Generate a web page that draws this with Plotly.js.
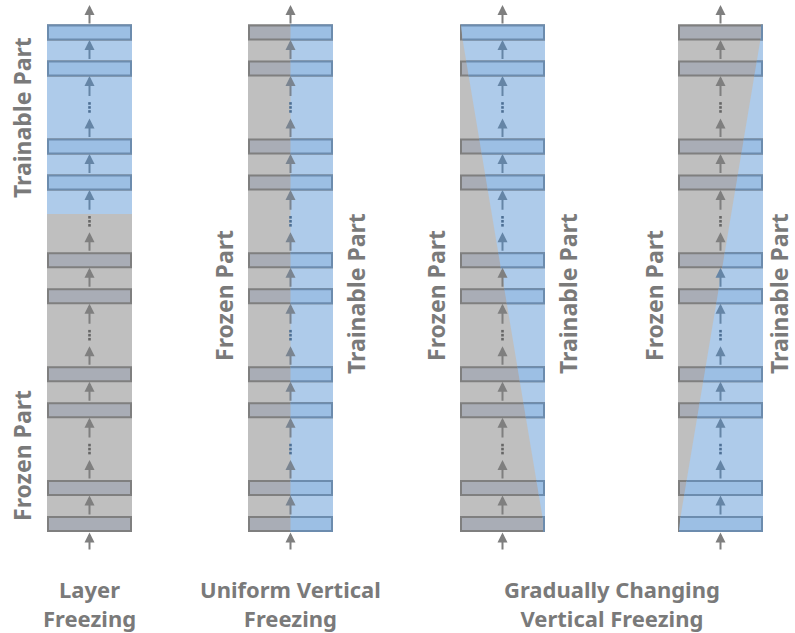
<!DOCTYPE html>
<html><head><meta charset="utf-8">
<script src="https://cdn.plot.ly/plotly-3.0.1.min.js"></script>
<style>html,body{margin:0;padding:0;background:#fff;overflow:hidden}</style>
</head><body><div id="chart" style="width:795px;height:633px"></div>
<script>
// ---------------- data ----------------
const schemeTitles = ['Layer<br>Freezing', 'Uniform Vertical<br>Freezing', 'Gradually Changing<br>Vertical Freezing'];
const columnModes = ['layer', 'uniform', 'gradualUp', 'gradualDown'];
// network stack from top to bottom: 'layer' = block, 'gap' = "⋮"
const layerStack = ['layer','layer','gap','layer','layer','gap','layer','layer','gap','layer','layer','gap','layer','layer'];
const partLabels = ['Trainable Part', 'Frozen Part'];

// ---------------- geometry / style ----------------
const W = 795, H = 633;
const colLeft = [47, 248, 460, 678], colW = 85;
const colTop = 24, colBot = 532;
const firstCenter = 32.5, llStep = 36, lgStep = 38.94;
const boxHalf = 7;
const layerSplitY = 214;
const titleY = 603;

const GRAY_BG = '#bfbfbf', BLUE_BG = '#aecbea';
const GRAY_BOX = '#a9adb6', BLUE_BOX = '#9cbfe4';
const GRAY_LINE = '#7f7f7f', BLUE_LINE = '#6c8cae';
const ARROW_GRAY = '#7f7f7f', ARROW_BLUE = '#6585a6', ARROW_MID = '#7a8490';
const DOT_GRAY = '#666666', DOT_BLUE = '#4d6f94';
const TEXT = '#7a7a7a';
const FONT = 'Noto Sans, Open Sans, sans-serif';

// centers of stack items
const centers = [];
{
  let y = firstCenter;
  layerStack.forEach((t, i) => {
    if (i > 0) y += (t === 'layer' && layerStack[i - 1] === 'layer') ? llStep : lgStep;
    centers.push(y);
  });
}
function itemTop(i) { return layerStack[i] === 'layer' ? centers[i] - boxHalf - 1 : centers[i] - 10; }
function itemBot(i) { return layerStack[i] === 'layer' ? centers[i] + boxHalf + 0.5 : centers[i] + 11; }

function blueInt(ci, yy) {
  const L = colLeft[ci], R = L + colW, s = colW / (colBot - colTop), cx = L + colW / 2;
  switch (columnModes[ci]) {
    case 'layer': return yy <= layerSplitY ? [L, R] : null;
    case 'uniform': return [cx, R];
    case 'gradualUp': return [L + (yy - colTop) * s, R];
    case 'gradualDown': return [R - (yy - colTop) * s, R];
  }
}

const shapes = [];
const annotations = [];
const traces = [];
const S = o => Object.assign({xref: 'x', yref: 'y', layer: 'below'}, o);

columnModes.forEach((mode, ci) => {
  const L = colLeft[ci], R = L + colW, cx = L + colW / 2;
  // backgrounds
  shapes.push(S({type: 'rect', x0: L, x1: R, y0: colTop, y1: colBot, fillcolor: GRAY_BG, line: {width: 0}}));
  if (mode === 'layer') {
    shapes.push(S({type: 'rect', x0: L, x1: R, y0: colTop, y1: layerSplitY, fillcolor: BLUE_BG, line: {width: 0}}));
  } else {
    const t = blueInt(ci, colTop), b = blueInt(ci, colBot);
    shapes.push(S({type: 'path',
      path: `M${t[0]},${colTop} L${t[1]},${colTop} L${b[1]},${colBot} L${b[0]},${colBot} Z`,
      fillcolor: BLUE_BG, line: {width: 0}}));
  }
  // boxes
  layerStack.forEach((t, i) => {
    if (t !== 'layer') return;
    const y1 = centers[i] - boxHalf, y2 = centers[i] + boxHalf;
    const bx0 = L + 1, bx1 = R - 1;
    shapes.push(S({type: 'rect', x0: bx0, x1: bx1, y0: y1, y1: y2,
      fillcolor: GRAY_BOX, line: {color: GRAY_LINE, width: 2}}));
    const i1 = blueInt(ci, y1), i2 = blueInt(ci, y2);
    if (!i1 || !i2) return;
    const a1 = Math.max(bx0, i1[0]), b1 = Math.min(bx1, i1[1]);
    const a2 = Math.max(bx0, i2[0]), b2 = Math.min(bx1, i2[1]);
    shapes.push(S({type: 'path', path: `M${a1},${y1} L${b1},${y1} L${b2},${y2} L${a2},${y2} Z`,
      fillcolor: BLUE_BOX, line: {width: 0}}));
    const leftFull = a1 <= bx0 && a2 <= bx0, rightFull = b1 >= bx1 && b2 >= bx1;
    let p;
    if (leftFull && rightFull) p = `M${bx0},${y1} L${bx1},${y1} L${bx1},${y2} L${bx0},${y2} Z`;
    else if (rightFull) p = `M${a1},${y1} L${bx1},${y1} L${bx1},${y2} L${a2},${y2}`;
    else p = `M${b1},${y1} L${bx0},${y1} L${bx0},${y2} L${b2},${y2}`;
    shapes.push(S({type: 'path', path: p, line: {color: BLUE_LINE, width: 2}}));
  });
  // arrow colour by region
  function arrowColor(ymid) {
    if (ymid < colTop || ymid > colBot) return ARROW_GRAY;
    if (mode === 'uniform') return ARROW_MID;
    const iv = blueInt(ci, ymid);
    return (iv && cx >= iv[0] && cx <= iv[1]) ? ARROW_BLUE : ARROW_GRAY;
  }
  function addArrow(tail, head) {
    annotations.push({xref: 'x', yref: 'y', axref: 'x', ayref: 'y', x: cx, y: head, ax: cx, ay: tail,
      text: '', showarrow: true, arrowhead: 2, arrowsize: 1, arrowwidth: 2, standoff: 0, startstandoff: 0,
      arrowcolor: arrowColor((tail + head) / 2)});
  }
  addArrow(itemTop(0) + 0.5, 5);
  for (let i = 0; i < layerStack.length - 1; i++) addArrow(itemTop(i + 1), itemBot(i));
  addArrow(551, colBot + 0.5);
  // dots
  const dx = [], dy = [], dc = [];
  layerStack.forEach((t, i) => {
    if (t !== 'gap') return;
    [-4, 0, 4].forEach(o => {
      const yy = centers[i] + o;
      dx.push(cx); dy.push(yy);
      if (mode === 'uniform') dc.push(DOT_BLUE);
      else { const iv = blueInt(ci, yy); dc.push(iv && cx >= iv[0] && cx <= iv[1] ? DOT_BLUE : DOT_GRAY); }
    });
  });
  traces.push({type: 'scatter', mode: 'markers', x: dx, y: dy, hoverinfo: 'skip', cliponaxis: false,
    marker: {symbol: 'square', size: 2.6, color: dc, line: {width: 0}}});

  // side labels
  const lab = (txt, x, y) => annotations.push({xref: 'x', yref: 'y', x: x, y: y, text: txt, showarrow: false,
    textangle: -90, xanchor: 'center', yanchor: 'middle',
    font: {family: FONT, size: 23, color: TEXT, weight: 'bold'}});
  if (mode === 'layer') {
    lab(partLabels[0], L - 25, 118);
    lab(partLabels[1], L - 25, 456);
  } else {
    lab(partLabels[1], L - 24, 296);
    lab(partLabels[0], Math.min(R + 23, W - 16), 294);
  }
});

// scheme titles
const titleX = [colLeft[0] + colW / 2, colLeft[1] + colW / 2, (colLeft[2] + colLeft[3] + colW) / 2];
schemeTitles.forEach((t, i) => annotations.push({xref: 'x', yref: 'y',
  x: titleX[i], y: titleY, text: t, showarrow: false, xanchor: 'center', yanchor: 'middle', align: 'center',
  font: {family: FONT, size: 22, color: TEXT, weight: 'bold'}}));

const layout = {
  width: W, height: H, margin: {l: 0, r: 0, t: 0, b: 0},
  paper_bgcolor: '#fff', plot_bgcolor: '#fff', showlegend: false,
  xaxis: {range: [0, W], visible: false, fixedrange: true},
  yaxis: {range: [H, 0], visible: false, fixedrange: true},
  shapes: shapes, annotations: annotations
};
Plotly.newPlot('chart', traces, layout, {staticPlot: true, displayModeBar: false});
</script></body></html>
